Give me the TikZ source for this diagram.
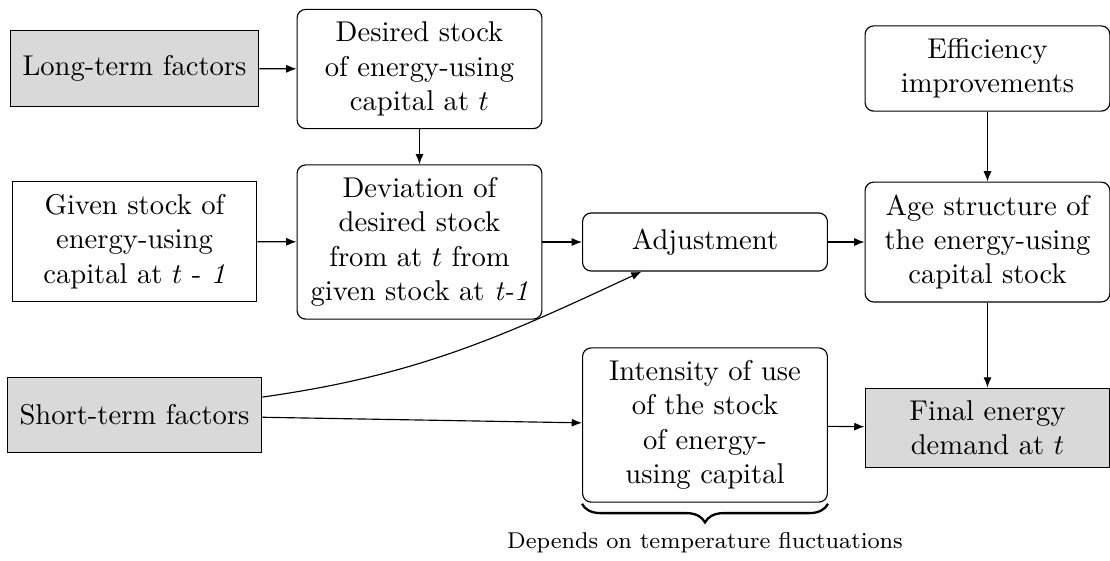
\documentclass[tikz,border=0pt]{standalone}
\usetikzlibrary{decorations.pathreplacing,arrows.meta}
\begin{document}
\begin{tikzpicture}[x=0.34965pt,y=-0.34965pt,
  box/.style={draw=black, align=center, minimum width=85.6pt,
    inner xsep=4.3pt, inner ysep=4.4pt},
  soft/.style={box, rounded corners=3pt},
  plain/.style={box},
  shaded/.style={box, fill=gray!30},
  conn/.style={-{Latex[length=3.6pt,width=2.8pt]}},
]
\useasboundingbox (0,0) rectangle (1110,560);

% first row
\node[shaded, minimum height=26.3pt] (lt) at (134.5,68.5) {Long-term factors};
\node[soft] (ds) at (419.5,69) {Desired stock\\of energy-using\\capital at $t$};
\node[soft] (ef) at (987.5,68.5) {Efficiency\\improvements};

% second row
\node[plain] (gs) at (134.5,241.5) {Given stock of\\energy-using\\capital at $t$ - \textit{1}};
\node[soft] (dv) at (419.5,242) {Deviation of\\desired stock\\from at $t$ from\\given stock at \textit{t-1}};
\node[soft, minimum height=20.3pt] (ad) at (705,242) {Adjustment};
\node[soft] (ag) at (987.5,242) {Age structure of\\the energy-using\\capital stock};

% third row
\node[shaded, minimum height=26.3pt] (st) at (134.5,415) {Short-term factors};
\node[soft] (iu) at (705,425) {Intensity of use\\of the stock\\of energy-\\using capital};
\node[shaded] (fe) at (987.5,428) {Final energy\\demand at $t$};

% connectors
\draw[conn] (lt) -- (ds);
\draw[conn] (ds) -- (dv);
\draw[conn] (gs) -- (dv);
\draw[conn] (dv) -- (ad);
\draw[conn] (ad) -- (ag);
\draw[conn] (ef) -- (ag);
\draw[conn] (ag) -- (fe);
\draw[conn] (st) to[out=8, in=205] (ad);
\draw[conn] (st) -- (iu);
\draw[conn] (iu) -- (fe);

% brace under the intensity box
\draw[thick, decorate, decoration={brace, mirror, amplitude=6.5pt}]
  ([yshift=-0.4pt]iu.south west) -- ([yshift=-0.4pt]iu.south east);
\node[font=\footnotesize] (dep) at (705,543) {Depends on temperature fluctuations};
\end{tikzpicture}
\end{document}
